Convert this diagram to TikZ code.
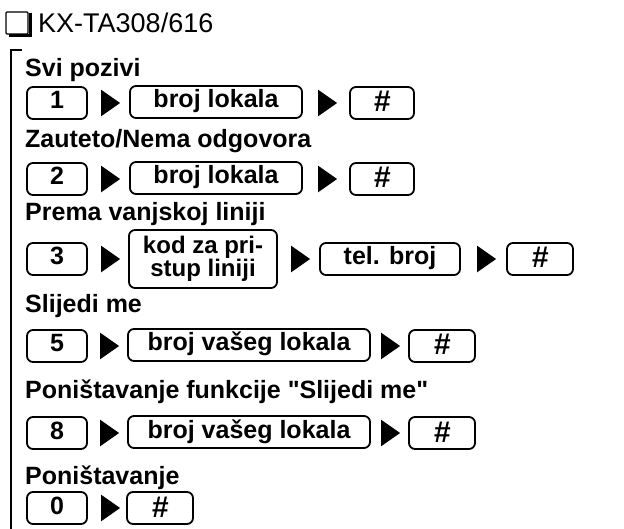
\documentclass[tikz,border=0pt]{standalone}
\usepackage{fontspec}
\setmainfont{Liberation Sans}
\usetikzlibrary{shapes.geometric}
\begin{document}
\begin{tikzpicture}[x=1pt,y=-1pt,
  key/.style={draw,line width=1.8pt,rounded corners=6pt,minimum height=32pt,inner sep=1pt,text height=17pt,text depth=5pt,font=\fontsize{25}{25}\selectfont\bfseries,align=center},
  hash/.style={key,font=\fontsize{30}{30}\selectfont\bfseries\itshape,text height=20pt,text depth=2pt},
  tri/.style={isosceles triangle,isosceles triangle apex angle=70,fill=black,inner sep=0pt,minimum height=19pt,minimum width=20pt},
  lbl/.style={anchor=west,font=\fontsize{25}{25}\selectfont\bfseries,inner sep=0pt}]
\useasboundingbox (0,0) rectangle (624,529);
\draw[line width=1.2pt,rounded corners=1pt,fill=white] (6,12) rectangle (28,34);
\draw[line width=3pt] (30,13) -- (30,36) -- (9,36);
\node[anchor=west,font=\fontsize{27}{27}\selectfont,inner sep=0pt] (title) at (38,23) {KX-TA308/616};
\draw[line width=1.5pt] (22,50) -- (11,50) -- (11,529);
\node[lbl] (l1) at (25,70) {Svi pozivi};
\node[key,minimum width=60pt] (k1) at (57,103) {1};
\node[tri] (a1) at (108,103) {};
\node[key,minimum width=172pt] (b1) at (216,102) {broj lokala};
\node[tri] (a2) at (325,103) {};
\node[hash,minimum width=64pt] (h1) at (382,103) {\#};
\node[lbl] (l2) at (25,141) {Zauteto/Nema odgovora};
\node[key,minimum width=60pt] (k2) at (57,179) {2};
\node[tri] (a3) at (108,179) {};
\node[key,minimum width=172pt] (b2) at (216,178) {broj lokala};
\node[tri] (a4) at (325,179) {};
\node[hash,minimum width=64pt] (h2) at (382,179) {\#};
\node[lbl] (l3) at (25,214) {Prema vanjskoj liniji};
\node[key,minimum width=60pt] (k3) at (57,259) {3};
\node[tri] (a5) at (108,259) {};
\node[draw,line width=1.8pt,rounded corners=6pt,minimum width=148pt,minimum height=58pt,inner sep=0pt,align=center,font=\fontsize{24}{22}\selectfont\bfseries] (c3) at (203,259) {kod za pri-\\stup liniji};
\node[tri] (a6) at (298,259) {};
\node[key,minimum width=140pt] (t3) at (390,259) {tel. broj};
\node[tri] (a7) at (484,259) {};
\node[hash,minimum width=66pt] (h3) at (540,259) {\#};
\node[lbl] (l4) at (25,306) {Slijedi me};
\node[key,minimum width=60pt] (k4) at (57,346) {5};
\node[tri] (a8) at (107,346) {};
\node[key,minimum width=242pt] (b4) at (249,345) {broj vašeg lokala};
\node[tri] (a9) at (388,346) {};
\node[hash,minimum width=66pt] (h4) at (442,346) {\#};
\node[lbl] (l5) at (25,392) {Poništavanje funkcije \textquotedbl Slijedi me\textquotedbl};
\node[key,minimum width=60pt] (k5) at (57,433) {8};
\node[tri] (a10) at (107,433) {};
\node[key,minimum width=242pt] (b5) at (249,432) {broj vašeg lokala};
\node[tri] (a11) at (388,433) {};
\node[hash,minimum width=66pt] (h5) at (442,433) {\#};
\node[lbl] (l6) at (25,478) {Poništavanje};
\node[key,minimum width=60pt] (k6) at (57,508) {0};
\node[tri] (a12) at (108,508) {};
\node[hash,minimum width=66pt] (h6) at (160,508) {\#};
\end{tikzpicture}
\end{document}
